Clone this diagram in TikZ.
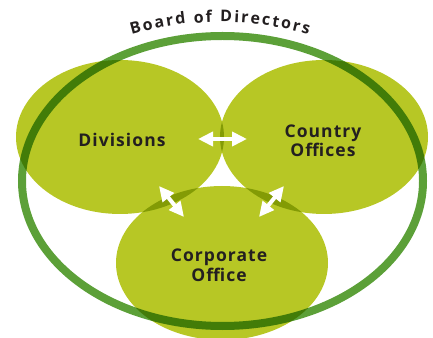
\documentclass[tikz,border=0pt]{standalone}
\usepackage{fontspec}
\setmainfont{Open Sans}
\newfontfamily\labelfont[LetterSpace=6]{Open Sans}
\usepackage{tikz}
\usetikzlibrary{arrows.meta,shapes.geometric,decorations.text}

\definecolor{leaf}{RGB}{183,199,37}
\definecolor{board}{RGB}{92,160,56}
\definecolor{ink}{RGB}{35,31,32}

\begin{document}
\begin{tikzpicture}[
    x=1pt, y=1pt,
    unit/.style={ellipse, fill=leaf, blend mode=multiply, minimum width=208pt, minimum height=154pt, inner sep=0pt},
    ring/.style={ellipse, draw=board, line width=8pt, blend mode=multiply, inner sep=0pt},
    title/.style={font=\labelfont\bfseries\fontsize{17.5}{19.5}\selectfont, text=ink, align=center},
    link/.style={draw=white, line width=4pt, {Triangle[length=15pt,width=14pt]}-{Triangle[length=15pt,width=14pt]}}
]
    \useasboundingbox (0,0) rectangle (433,337);

    % Units
    \node[unit] (div) at (120,200) {};
    \node[unit] (cty) at (324,200) {};
    \node[unit, minimum width=212pt] (corp) at (222,74) {};

    % Board ring
    \node[ring, minimum width=401pt, minimum height=290pt] (board) at (222.5,156) {};

    % Curved heading
    \path[decorate, decoration={text along path, text align=fit to path,
        text={|\bfseries\color{ink}\fontsize{16}{18}\selectfont|Board of Directors}}]
        (220,-6) ++(106:321) arc [start angle=106, end angle=74, radius=321];

    % Links
    \coordinate (dc1) at (198,198);
    \coordinate (dc2) at (247,198);
    \coordinate (dp1) at (159,151);
    \coordinate (dp2) at (184,120);
    \coordinate (cp1) at (284,151);
    \coordinate (cp2) at (259,120);
    \draw[link] (dc1) -- (dc2);
    \draw[link] (dp1) -- (dp2);
    \draw[link] (cp1) -- (cp2);

    % Labels
    \node[title] (divtext) at ([shift={(2,-3)}]div) {Divisions};
    \node[title] (ctytext) at ([shift={(-1,-4)}]cty) {Country\\Offices};
    \node[title] (corptext) at ([shift={(-3,-2)}]corp) {Corporate\\Office};

\end{tikzpicture}
\end{document}
